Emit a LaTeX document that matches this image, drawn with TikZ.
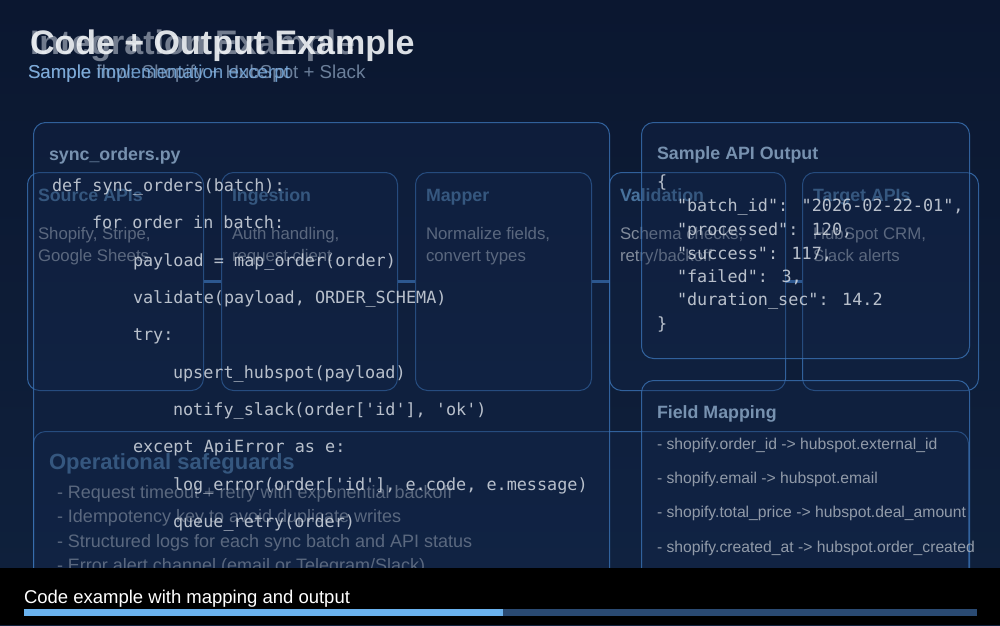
\documentclass[tikz,border=0pt]{standalone}
\usepackage{fontspec}
\setmainfont{Liberation Sans}
\newfontfamily\codefont{DejaVu Sans Mono}
\usetikzlibrary{positioning}
\definecolor{bgtop}{HTML}{0B1730}
\definecolor{bgbot}{HTML}{0F213D}
\definecolor{panelfill}{HTML}{13264A}
\definecolor{panelline}{HTML}{3A72B4}
\definecolor{titleB}{HTML}{F2F5F8}
\definecolor{titleA}{HTML}{B8C0CC}
\definecolor{subB}{HTML}{7FB2E5}
\definecolor{subA}{HTML}{8CA2BE}
\definecolor{headB}{HTML}{8AA6C4}
\definecolor{headA}{HTML}{5381AD}
\definecolor{codecol}{HTML}{D6DCE4}
\definecolor{desccol}{HTML}{A8B0BB}
\definecolor{barfill}{HTML}{6AB2EE}
\definecolor{barrest}{HTML}{2A4A72}
\tikzset{
  panel/.style={draw=panelline, line width=1pt, rounded corners=12pt, fill=panelfill, fill opacity=0.35, draw opacity=0.8, inner sep=0pt, anchor=north west},
  flowbox/.style={panel, minimum width=176pt, minimum height=218pt},
  txt/.style={anchor=base west, inner sep=0pt, outer sep=0pt, text opacity=0.85},
  bigtitle/.style={txt, font=\bfseries\fontsize{34}{40}\selectfont},
  subtitle/.style={txt, font=\fontsize{18.7}{22}\selectfont},
  panelhead/.style={txt, font=\bfseries\fontsize{17.8}{21}\selectfont, text=headB},
  boxhead/.style={txt, font=\bfseries\fontsize{17.8}{21}\selectfont, text=headA},
  desc/.style={txt, font=\fontsize{16.8}{20}\selectfont, text=desccol, text opacity=0.75},
  codeline/.style={txt, font=\codefont\fontsize{16.8}{20}\selectfont, text=codecol},
  mapline/.style={txt, font=\fontsize{15.7}{19}\selectfont, text=desccol},
  bullet/.style={txt, font=\fontsize{18}{21}\selectfont, text=desccol, text opacity=0.75},
  flowlink/.style={draw=panelline, line width=3pt},
}
\begin{document}
\begin{tikzpicture}[x=1pt,y=-1pt]
\useasboundingbox (0,0) rectangle (1000,625);
\shade[top color=bgtop, bottom color=bgbot] (0,0) rectangle (1000,625);

% ---------- slide A (integration flow) ----------
\node[bigtitle, text=titleA, text opacity=0.6] (titA) at (30,54) {Integration Example};
\node[subtitle, text=subA, text opacity=0.75] (subtA) at (28,78) {Sample flow: Shopify + HubSpot + Slack};

\node[flowbox] (src) at (27,172) {};
\node[flowbox] (ing) at (221,172) {};
\node[flowbox] (map) at (415,172) {};
\node[flowbox] (val) at (609,172) {};
\node[flowbox] (tgt) at (802,172) {};
\draw[flowlink] (src.east) -- (ing.west);
\draw[flowlink] (ing.east) -- (map.west);
\draw[flowlink] (map.east) -- (val.west);
\draw[flowlink] (val.east) -- (tgt.west);

\node[boxhead] (srcT) at (38,201) {Source APIs};
\node[desc] (srcD1) at (38,239) {Shopify, Stripe,};
\node[desc] (srcD2) at (38,261) {Google Sheets};
\node[boxhead] (ingT) at (232,201) {Ingestion};
\node[desc] (ingD1) at (232,239) {Auth handling,};
\node[desc] (ingD2) at (232,261) {request client};
\node[boxhead] (mapT) at (426,201) {Mapper};
\node[desc] (mapD1) at (426,239) {Normalize fields,};
\node[desc] (mapD2) at (426,261) {convert types};
\node[boxhead] (valT) at (620,201) {Validation};
\node[desc] (valD1) at (620,239) {Schema checks,};
\node[desc] (valD2) at (620,261) {retry/backoff};
\node[boxhead] (tgtT) at (813,201) {Target APIs};
\node[desc] (tgtD1) at (813,239) {HubSpot CRM,};
\node[desc] (tgtD2) at (813,261) {Slack alerts};

\node[panel, minimum width=935pt, minimum height=160pt] (safe) at (33,431) {};
\node[txt, font=\bfseries\fontsize{22}{26}\selectfont, text=headA] (safeT) at (49,469) {Operational safeguards};
\node[bullet] (b1) at (57,498) {- Request timeout + retry with exponential backoff};
\node[bullet] (b2) at (57,522) {- Idempotency key to avoid duplicate writes};
\node[bullet] (b3) at (57,547) {- Structured logs for each sync batch and API status};
\node[bullet] (b4) at (57,571) {- Error alert channel (email or Telegram/Slack)};

% ---------- slide B (code + output) ----------
\node[bigtitle, text=titleB, text opacity=0.9] (titB) at (30,54) {Code + Output Example};
\node[subtitle, text=subB] (subtB) at (28,78) {Sample implementation excerpt};

\node[panel, minimum width=576pt, minimum height=470pt] (code) at (33,122) {};
\node[panelhead] (codeT) at (49,160) {sync\_orders.py};
\node[codeline] (c1) at (52,191) {def sync\_orders(batch):};
\node[codeline] (c2) at (92,228) {for order in batch:};
\node[codeline] (c3) at (133,266) {payload = map\_order(order)};
\node[codeline] (c4) at (133,303) {validate(payload, ORDER\_SCHEMA)};
\node[codeline] (c5) at (133,340) {try:};
\node[codeline] (c6) at (173,378) {upsert\_hubspot(payload)};
\node[codeline] (c7) at (173,415) {notify\_slack(order['id'], 'ok')};
\node[codeline] (c8) at (133,452) {except ApiError as e:};
\node[codeline] (c9) at (173,490) {log\_error(order['id'], e.code, e.message)};
\node[codeline] (c10) at (173,527) {queue\_retry(order)};

\node[panel, minimum width=328pt, minimum height=236pt] (out) at (641,122) {};
\node[panelhead] (outT) at (657,159) {Sample API Output};
\node[codeline] (j1) at (657,187) {\{};
\node[codeline] (j2) at (677,211) {"batch\_id": "2026-02-22-01",};
\node[codeline] (j3) at (677,235) {"processed": 120,};
\node[codeline] (j4) at (677,259) {"success": 117,};
\node[codeline] (j5) at (677,282) {"failed": 3,};
\node[codeline] (j6) at (677,305) {"duration\_sec": 14.2};
\node[codeline] (j7) at (657,329) {\}};

\node[panel, minimum width=328pt, minimum height=210pt] (fmap) at (641,380) {};
\node[panelhead] (fmapT) at (657,418) {Field Mapping};
\node[mapline] (m1) at (657,449) {- shopify.order\_id -> hubspot.external\_id};
\node[mapline] (m2) at (657,483) {- shopify.email -> hubspot.email};
\node[mapline] (m3) at (657,517) {- shopify.total\_price -> hubspot.deal\_amount};
\node[mapline] (m4) at (657,552) {- shopify.created\_at -> hubspot.order\_created};

% ---------- caption bar ----------
\fill[black] (0,568) rectangle (1000,625);
\node[txt, font=\fontsize{18.5}{22}\selectfont, text=white, text opacity=1] (cap) at (24,603) {Code example with mapping and output};
\node[fill=barrest, minimum width=953pt, minimum height=7pt, inner sep=0pt, anchor=north west] (bar) at (24,609) {};
\node[fill=barfill, minimum width=479pt, minimum height=7pt, inner sep=0pt, anchor=north west] (prog) at (24,609) {};
\end{tikzpicture}
\end{document}
